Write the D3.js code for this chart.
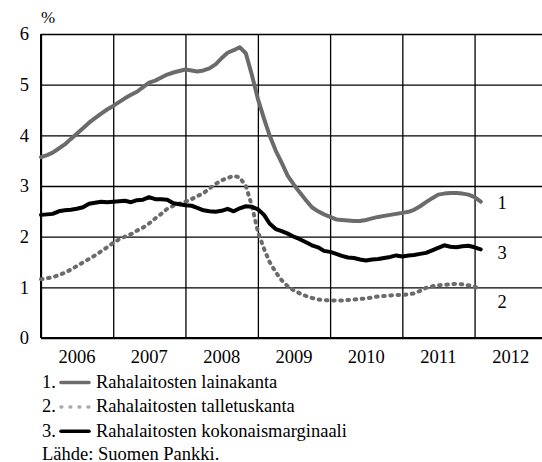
<!DOCTYPE html>
<html>
<head>
<meta charset="utf-8">
<style>
  body { margin: 0; background: #fff; }
  svg { display: block; }
</style>
</head>
<body>
<svg width="542" height="462" font-family="Liberation Serif, Times New Roman, serif"></svg>
<script src="https://d3js.org/d3.v7.min.js"></script>
<script>
// monthly values from Jan 2006 to Feb 2012, %
var lainakanta = [3.57,3.61,3.66,3.74,3.82,3.93,4.03,4.14,4.25,4.34,4.43,4.51,
  4.58,4.66,4.73,4.80,4.86,4.95,5.04,5.08,5.14,5.20,5.24,5.27,
  5.30,5.28,5.26,5.28,5.32,5.40,5.52,5.63,5.68,5.74,5.62,5.20,
  4.72,4.33,4.00,3.70,3.46,3.20,3.03,2.87,2.72,2.58,2.50,2.44,
  2.39,2.34,2.33,2.32,2.31,2.31,2.33,2.36,2.39,2.41,2.43,2.45,
  2.47,2.49,2.53,2.60,2.68,2.76,2.83,2.85,2.86,2.86,2.85,2.83,
  2.78,2.69];
var talletuskanta = [1.16,1.18,1.20,1.24,1.29,1.35,1.42,1.49,1.56,1.63,1.71,1.79,
  1.88,1.95,2.00,2.05,2.12,2.18,2.26,2.36,2.45,2.55,2.61,2.65,
  2.69,2.74,2.80,2.86,2.95,3.04,3.11,3.16,3.20,3.17,3.00,2.62,
  2.10,1.76,1.50,1.30,1.14,1.02,0.94,0.88,0.83,0.79,0.76,0.75,
  0.74,0.74,0.74,0.75,0.76,0.77,0.78,0.80,0.82,0.83,0.84,0.85,
  0.85,0.86,0.88,0.93,0.99,1.02,1.04,1.05,1.06,1.07,1.06,1.04,
  1.01,0.97];
var marginaali = [2.43,2.44,2.45,2.50,2.52,2.53,2.55,2.58,2.65,2.67,2.69,2.68,
  2.69,2.70,2.71,2.68,2.72,2.73,2.78,2.74,2.74,2.73,2.66,2.64,
  2.62,2.61,2.57,2.52,2.50,2.49,2.51,2.55,2.50,2.56,2.60,2.59,
  2.54,2.43,2.26,2.15,2.11,2.06,2.00,1.95,1.89,1.83,1.79,1.72,
  1.70,1.66,1.62,1.59,1.58,1.55,1.53,1.55,1.56,1.58,1.60,1.63,
  1.61,1.63,1.64,1.66,1.68,1.73,1.78,1.83,1.80,1.79,1.81,1.82,
  1.79,1.75];
var years = [2006, 2007, 2008, 2009, 2010, 2011, 2012];
var yTicks = [0, 1, 2, 3, 4, 5, 6];
var legendLabels = ["Rahalaitosten lainakanta", "Rahalaitosten talletuskanta", "Rahalaitosten kokonaismarginaali"];
var endLabels = ["1", "2", "3"];
var source = "Lähde: Suomen Pankki.";

(function() {
var svg = d3.select("svg");
var fnt = "Liberation Serif, Times New Roman, serif";
var mLeft = 41, mRight = 547, mTop = 34, mBottom = 338;

var x = d3.scaleTime()
    .domain([new Date(2006, 0, 1), new Date(2013, 0, 1)])
    .range([mLeft, mRight]);
var y = d3.scaleLinear().domain([0, 6]).range([mBottom, mTop]);

function monthly(arr) {
  return arr.map(function(v, i) { return {date: new Date(2006, i, 1), value: v}; });
}
var series = [
  {name: legendLabels[0], data: monthly(lainakanta), color: "#6b6b6b", dash: null, lbl: endLabels[0]},
  {name: legendLabels[1], data: monthly(talletuskanta), color: "#6b6b6b", dash: "1.6,5.6", lbl: endLabels[1]},
  {name: legendLabels[2], data: monthly(marginaali), color: "#000", dash: null, lbl: endLabels[2]}
];

// horizontal grid + y labels
var yAxis = d3.axisLeft(y).tickValues(yTicks).tickSize(-(mRight - mLeft)).tickPadding(12).tickFormat(d3.format("d"));
var gy = svg.append("g").attr("transform", "translate(" + mLeft + ",0)").call(yAxis)
    .attr("font-family", fnt).attr("font-size", 18.5);
gy.select(".domain").remove();
gy.selectAll("line").attr("stroke", "#000").attr("stroke-width", 1.3);
gy.selectAll("text").attr("fill", "#000").attr("dy", "0.32em");

// vertical grid at year boundaries
var xAxis = d3.axisBottom(x)
    .tickValues(years.map(function(yr) { return new Date(yr, 0, 1); }))
    .tickSize(-(mBottom - mTop)).tickFormat("");
var gx = svg.append("g").attr("transform", "translate(0," + mBottom + ")").call(xAxis);
gx.select(".domain").remove();
gx.selectAll("line").attr("stroke", "#000").attr("stroke-width", 1.3);

// frame: left axis and bottom axis heavier
svg.append("line").attr("x1", mLeft).attr("x2", mLeft).attr("y1", mTop).attr("y2", mBottom)
   .attr("stroke", "#000").attr("stroke-width", 2);
svg.append("line").attr("x1", mLeft).attr("x2", mRight).attr("y1", mBottom).attr("y2", mBottom)
   .attr("stroke", "#000").attr("stroke-width", 2);

// year labels centred in each year
svg.append("g").selectAll("text").data(years).enter().append("text")
    .attr("x", function(d) { return (x(new Date(d, 0, 1)) + x(new Date(d + 1, 0, 1))) / 2; })
    .attr("y", 363)
    .attr("text-anchor", "middle")
    .attr("font-size", 18.5)
    .text(function(d) { return d; });

svg.append("text").attr("x", 41).attr("y", 23).attr("font-size", 17).text("%");

var line = d3.line()
    .x(function(d) { return x(d.date); })
    .y(function(d) { return y(d.value); });

[series[1], series[0], series[2]].forEach(function(s) {
  svg.append("path")
      .datum(s.data)
      .attr("fill", "none")
      .attr("stroke", s.color)
      .attr("stroke-width", 4)
      .attr("stroke-linejoin", "round")
      .attr("stroke-linecap", "round")
      .attr("stroke-dasharray", s.dash)
      .attr("d", line);
});

// end labels
var endY = [209, 308, 259];
svg.append("g").selectAll("text").data(series).enter().append("text")
    .attr("x", 502).attr("y", function(d, i) { return endY[i]; })
    .attr("text-anchor", "middle").attr("font-size", 18.5)
    .text(function(d) { return d.lbl; });

// legend
var legend = svg.append("g").selectAll("g").data(series).enter().append("g")
    .attr("transform", function(d, i) { return "translate(0," + (388 + i * 24.4) + ")"; });
legend.append("text").attr("x", 42).attr("font-size", 18.5)
    .text(function(d, i) { return (i + 1) + "."; });
legend.append("line")
    .attr("x1", 61).attr("x2", 89).attr("y1", -5.5).attr("y2", -5.5)
    .attr("stroke", function(d, i) { return i === 1 ? "#a8a8a8" : d.color; })
    .attr("stroke-width", 3.5)
    .attr("stroke-linecap", "round")
    .attr("stroke-dasharray", function(d, i) { return i === 1 ? "0.8,8.2" : null; });
legend.append("text").attr("x", 96).attr("font-size", 18.5)
    .text(function(d) { return d.name; });

svg.append("text").attr("x", 42).attr("y", 459.5).attr("font-size", 18.5).text(source);
})();
</script>
</body>
</html>
